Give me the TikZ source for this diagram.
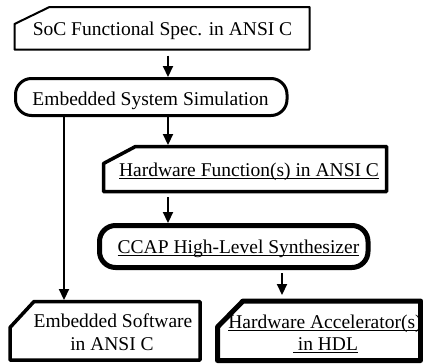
\documentclass[tikz,border=0pt]{standalone}
\usepackage{fontspec}
\setmainfont{Liberation Serif}
\usetikzlibrary{arrows.meta,calc}
\newcommand\myul[1]{\setbox0=\hbox{#1}\rlap{\rule[-2.8pt]{\wd0}{0.9pt}}\box0}
\newcommand\cutframe[4]{%
  \draw[#4] ([yshift=-#3pt]#1.north west) -- ([xshift=#2pt]#1.north west) -- (#1.north east) -- (#1.south east) -- (#1.south west) -- cycle;}
\begin{document}
\begin{tikzpicture}[x=1pt,y=-1pt,line join=round,
  frame/.style={rectangle,inner sep=0pt,outer sep=0pt,draw=none},
  txt/.style={inner sep=0pt,anchor=base,font=\fontsize{19.5}{23}\selectfont},
  arr/.style={line width=2.2pt,-{Triangle[width=10pt,length=11pt]}}]
\useasboundingbox (0,0) rectangle (423,364);
% box frames
\node[frame,minimum width=295pt,minimum height=42.5pt] (b1) at (162,28.25) {};
\node[frame,minimum width=271.5pt,minimum height=37pt] (b2) at (151.25,97) {};
\node[frame,minimum width=283pt,minimum height=45pt] (b3) at (245,169) {};
\node[frame,minimum width=268.5pt,minimum height=42pt] (b4) at (233.75,246.5) {};
\node[frame,minimum width=190pt,minimum height=58.5pt] (b5) at (105,330.75) {};
\node[frame,minimum width=203pt,minimum height=59.5pt] (b6) at (319,330.75) {};
% outlines
\cutframe{b1}{35}{17}{line width=2pt}
\draw[line width=3pt,rounded corners=16pt] (b2.north west) rectangle (b2.south east);
\cutframe{b3}{32}{17}{line width=3.5pt}
\draw[line width=5pt,rounded corners=16pt] (b4.north west) rectangle (b4.south east);
\cutframe{b5}{24}{26}{line width=3.5pt}
\cutframe{b6}{25.5}{26}{line width=5pt}
% texts
\node[txt] (t1) at (162.5,35) {SoC Functional Spec. in ANSI C};
\node[txt] (t2) at (150.5,105) {Embedded System Simulation};
\node[txt] (t3) at (249,176) {\myul{Hardware Function(s) in ANSI C}};
\node[txt] (t4) at (238.5,253) {\myul{CCAP High-Level Synthesizer}};
\node[txt] (t5a) at (113,327) {Embedded Software};
\node[txt] (t5b) at (112,350) {in ANSI C};
\node[txt] (t6a) at (325,328) {\myul{Hardware Accelerator(s)}};
\node[txt] (t6b) at (325.5,350) {\myul{\ in HDL}};
% connectors
\coordinate (cm) at (168,0);
\coordinate (cl) at (64,0);
\coordinate (cr) at (282,0);
\draw[arr,shorten <=6pt,shorten >=1.5pt] (b1.south -| cm) -- (b2.north -| cm);
\draw[arr,shorten >=1.5pt] (b2.south -| cm) -- (b3.north -| cm);
\draw[arr,shorten <=5.5pt,shorten >=2.5pt] (b3.south -| cm) -- (b4.north -| cm);
\draw[arr,shorten >=1.5pt] (b2.south -| cl) -- (b5.north -| cl);
\draw[arr,shorten <=5.5pt,shorten >=6pt] (b4.south -| cr) -- (b6.north -| cr);
\end{tikzpicture}
\end{document}
